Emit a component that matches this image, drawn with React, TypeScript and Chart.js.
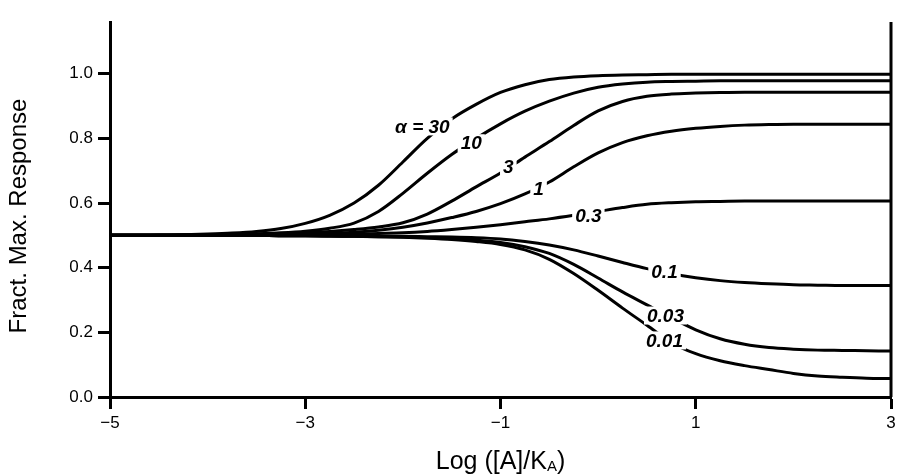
import React, { useEffect, useRef } from "react";
import { Chart, registerables } from "chart.js";

Chart.register(...registerables);

// ---- Data ----
const xValues = [
  -5, -4.75, -4.5, -4.25, -4, -3.75, -3.5, -3.25, -3, -2.75, -2.5, -2.25, -2, -1.75, -1.5, -1.25, -1,
  -0.75, -0.5, -0.25, 0, 0.25, 0.5, 0.75, 1, 1.25, 1.5, 1.75, 2, 2.25, 2.5, 2.75, 3,
];

const alpha30 = [
  0.5, 0.5, 0.501, 0.502, 0.504, 0.507, 0.512, 0.521, 0.537, 0.562, 0.6, 0.655, 0.727, 0.8, 0.86, 0.905, 0.942,
  0.966, 0.982, 0.99, 0.994, 0.996, 0.997, 0.998, 0.998, 0.998, 0.998, 0.998, 0.998, 0.998, 0.998, 0.998, 0.998,
];
const alpha10 = [
  0.5, 0.5, 0.5, 0.501, 0.502, 0.503, 0.505, 0.508, 0.513, 0.522, 0.538, 0.574, 0.63, 0.692, 0.75, 0.8, 0.845,
  0.884, 0.915, 0.94, 0.958, 0.968, 0.974, 0.976, 0.977, 0.978, 0.978, 0.978, 0.978, 0.978, 0.978, 0.978, 0.978,
];
const alpha3 = [
  0.5, 0.5, 0.5, 0.501, 0.501, 0.502, 0.503, 0.505, 0.508, 0.512, 0.518, 0.526, 0.539, 0.566, 0.606, 0.65, 0.693,
  0.742, 0.79, 0.84, 0.885, 0.914, 0.93, 0.937, 0.94, 0.942, 0.943, 0.943, 0.943, 0.943, 0.943, 0.943, 0.943,
];
const alpha1 = [
  0.5, 0.5, 0.5, 0.5, 0.501, 0.501, 0.502, 0.503, 0.504, 0.506, 0.51, 0.516, 0.525, 0.538, 0.555, 0.574, 0.598,
  0.628, 0.665, 0.712, 0.755, 0.787, 0.808, 0.822, 0.831, 0.837, 0.841, 0.843, 0.844, 0.844, 0.844, 0.844, 0.844,
];
const alpha03 = [
  0.5, 0.5, 0.5, 0.5, 0.5, 0.501, 0.501, 0.502, 0.502, 0.503, 0.504, 0.506, 0.508, 0.512, 0.518, 0.525, 0.533,
  0.542, 0.551, 0.562, 0.574, 0.586, 0.596, 0.601, 0.604, 0.605, 0.606, 0.606, 0.606, 0.606, 0.606, 0.606, 0.606,
];
const alpha01 = [
  0.5, 0.5, 0.5, 0.5, 0.5, 0.5, 0.5, 0.499, 0.499, 0.498, 0.498, 0.497, 0.497, 0.496, 0.495, 0.493, 0.489,
  0.481, 0.47, 0.455, 0.436, 0.416, 0.397, 0.381, 0.369, 0.36, 0.354, 0.35, 0.347, 0.346, 0.345, 0.345, 0.345,
];
const alpha003 = [
  0.5, 0.5, 0.5, 0.5, 0.5, 0.5, 0.5, 0.499, 0.499, 0.498, 0.497, 0.496, 0.495, 0.493, 0.49, 0.485, 0.478,
  0.465, 0.444, 0.41, 0.368, 0.325, 0.285, 0.245, 0.208, 0.18, 0.163, 0.153, 0.148, 0.145, 0.144, 0.143, 0.142,
];
const alpha001 = [
  0.5, 0.5, 0.5, 0.5, 0.5, 0.5, 0.5, 0.499, 0.499, 0.498, 0.497, 0.496, 0.494, 0.491, 0.487, 0.481, 0.472,
  0.455, 0.426, 0.382, 0.33, 0.275, 0.222, 0.168, 0.134, 0.112, 0.097, 0.085, 0.073, 0.065, 0.061, 0.058, 0.057,
];

const seriesValues = [alpha30, alpha10, alpha3, alpha1, alpha03, alpha01, alpha003, alpha001];
const curveLabels = ["\u03b1 = 30", "10", "3", "1", "0.3", "0.1", "0.03", "0.01"];
const labelX = [-1.8, -1.3, -0.92, -0.61, -0.1, 0.68, 0.69, 0.68];
const labelY = [0.837, 0.785, 0.711, 0.643, 0.56, 0.388, 0.252, 0.175];

const xTicks = [-5, -3, -1, 1, 3];
const yTicks = [0, 0.2, 0.4, 0.6, 0.8, 1.0];
const xMin = -5;
const xMax = 3;
const yMin = 0;
const yMax = 1.16;

const yTitle = "Fract. Max. Response";
const xTitleMain = "Log ([A]/K";
const xTitleSub = "A";
const xTitleEnd = ")";

const FONT = "'Liberation Sans', Arial, Helvetica, sans-serif";

const fmtX = (v: number) => (v < 0 ? "\u2212" + Math.abs(v) : String(v));

const overlayPlugin = {
  id: "overlay",
  afterDatasetsDraw(chart: any) {
    const { ctx, scales } = chart;
    const xs = scales.x;
    const ys = scales.y;
    ctx.save();
    ctx.font = `italic bold 19px ${FONT}`;
    ctx.textAlign = "center";
    ctx.textBaseline = "middle";
    curveLabels.forEach((txt, i) => {
      const px = xs.getPixelForValue(labelX[i]);
      const py = ys.getPixelForValue(labelY[i]);
      const w = ctx.measureText(txt).width;
      ctx.fillStyle = "#fff";
      ctx.fillRect(px - w / 2 - 3, py - 9, w + 6, 18);
      ctx.fillStyle = "#000";
      ctx.fillText(txt, px, py + 1);
    });
    ctx.restore();
  },
  afterDraw(chart: any) {
    const { ctx, chartArea } = chart;
    ctx.save();
    // right border line
    ctx.strokeStyle = "#000";
    ctx.lineWidth = 3;
    ctx.beginPath();
    ctx.moveTo(chartArea.right, chartArea.top);
    ctx.lineTo(chartArea.right, chartArea.bottom);
    ctx.stroke();

    // x-axis title with subscript
    ctx.fillStyle = "#000";
    ctx.textBaseline = "alphabetic";
    ctx.textAlign = "left";
    const mainFont = `25px ${FONT}`;
    const subFont = `15px ${FONT}`;
    ctx.font = mainFont;
    const w1 = ctx.measureText(xTitleMain).width;
    const w3 = ctx.measureText(xTitleEnd).width;
    ctx.font = subFont;
    const w2 = ctx.measureText(xTitleSub).width;
    const total = w1 + w2 + w3;
    const cx = (chartArea.left + chartArea.right) / 2;
    const baseY = 469;
    let x0 = cx - total / 2;
    ctx.font = mainFont;
    ctx.fillText(xTitleMain, x0, baseY);
    x0 += w1;
    ctx.font = subFont;
    ctx.fillText(xTitleSub, x0, baseY + 2);
    x0 += w2;
    ctx.font = mainFont;
    ctx.fillText(xTitleEnd, x0, baseY);

    // y-axis title (rotated)
    ctx.font = `24px ${FONT}`;
    ctx.textAlign = "center";
    ctx.textBaseline = "middle";
    ctx.translate(19, 216);
    ctx.rotate(-Math.PI / 2);
    ctx.fillText(yTitle, 0, 0);
    ctx.restore();
  },
};

export default function App() {
  const canvasRef = useRef<HTMLCanvasElement | null>(null);

  useEffect(() => {
    if (!canvasRef.current) return;
    const datasets = seriesValues.map((vals, i) => ({
      label: curveLabels[i],
      data: xValues.map((x, j) => ({ x, y: vals[j] })),
      borderColor: "#000",
      backgroundColor: "#000",
      borderWidth: 3,
      pointRadius: 0,
      fill: false,
      cubicInterpolationMode: "monotone" as const,
    }));

    const chart = new Chart(canvasRef.current, {
      type: "line",
      data: { datasets },
      options: {
        animation: false,
        responsive: true,
        maintainAspectRatio: false,
        layout: { padding: { top: 22, right: 11, left: 0, bottom: 0 } },
        plugins: {
          legend: { display: false },
          tooltip: { enabled: false },
        },
        scales: {
          x: {
            type: "linear",
            min: xMin,
            max: xMax,
            afterBuildTicks: (s: any) => {
              s.ticks = xTicks.map((v) => ({ value: v }));
            },
            afterFit: (s: any) => {
              s.height = 77;
            },
            grid: {
              display: true,
              drawOnChartArea: false,
              drawTicks: true,
              tickLength: 12,
              tickWidth: 3,
              tickColor: "#000",
            },
            border: { display: true, width: 3, color: "#000" },
            ticks: {
              color: "#000",
              font: { family: FONT, size: 17 },
              padding: 4,
              maxRotation: 0,
              autoSkip: false,
              callback: (v: any) => fmtX(Number(v)),
            },
          },
          y: {
            type: "linear",
            min: yMin,
            max: yMax,
            afterBuildTicks: (s: any) => {
              s.ticks = yTicks.map((v) => ({ value: v }));
            },
            afterFit: (s: any) => {
              s.width = 110;
            },
            grid: {
              display: true,
              drawOnChartArea: false,
              drawTicks: true,
              tickLength: 12,
              tickWidth: 3,
              tickColor: "#000",
            },
            border: { display: true, width: 3, color: "#000" },
            ticks: {
              color: "#000",
              font: { family: FONT, size: 17 },
              padding: 5,
              autoSkip: false,
              callback: (v: any) => Number(v).toFixed(1),
            },
          },
        },
      },
      plugins: [overlayPlugin],
    });
    return () => chart.destroy();
  }, []);

  return (
    <div style={{ position: "absolute", left: 0, top: 0, width: 902, height: 474, background: "#fff" }}>
      <canvas ref={canvasRef} />
    </div>
  );
}
